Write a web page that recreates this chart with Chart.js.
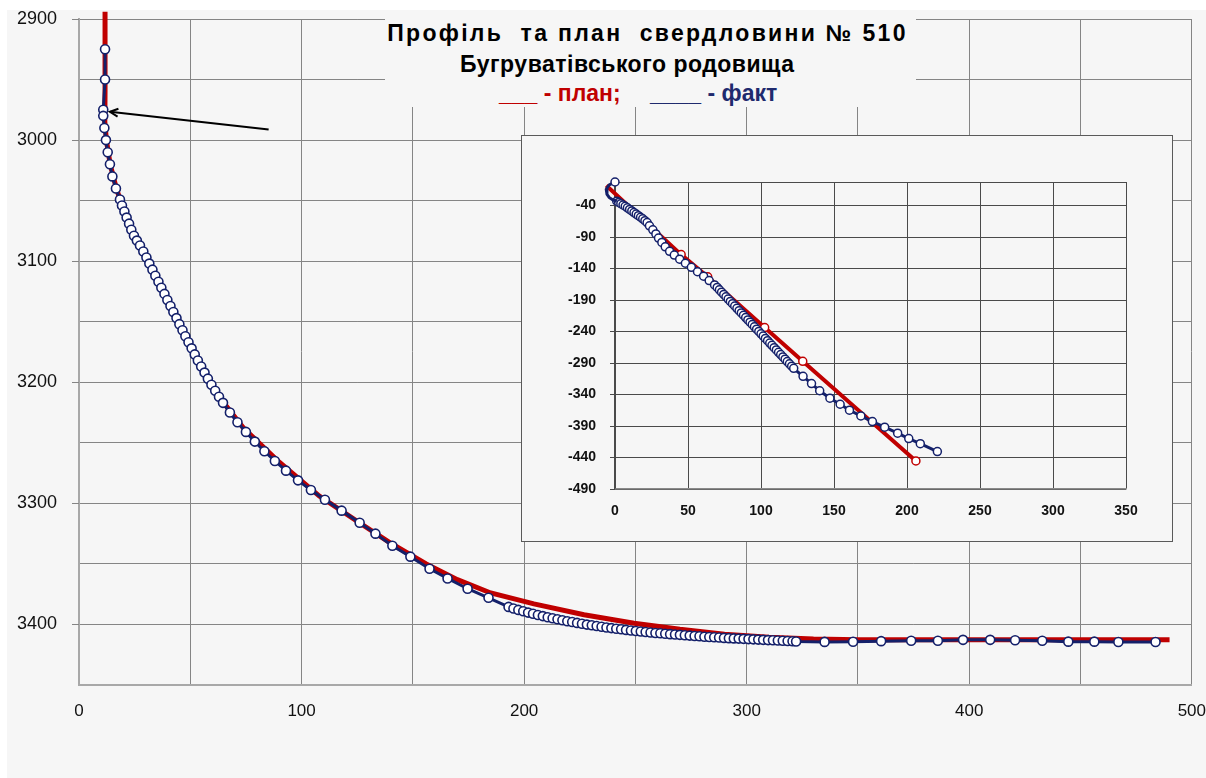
<!DOCTYPE html>
<html>
<head>
<meta charset="utf-8">
<script src="https://cdn.jsdelivr.net/npm/chart.js@4.4.1/dist/chart.umd.min.js"></script>
<style>
  html, body { margin: 0; padding: 0; background: #fff; }
  body { width: 1206px; height: 778px; position: relative; overflow: hidden; font-family: "Liberation Sans", Arial, sans-serif; }
  #bg { position: absolute; left: 7px; top: 10px; right: 0; bottom: 0; background: #f6f6f6; }
  #main { position: absolute; left: 0; top: 0; }
  #title { position: absolute; left: 385px; top: 10px; width: 531px; height: 97px; background: #f6f6f6; }
  #title div { position: absolute; white-space: pre; font-weight: bold; font-size: 23px; line-height: 23px; }
  #line1 { left: 0; width: 525px; text-align: center; top: 12px; letter-spacing: 2.3px; color: #000; }
  #line2 { left: 75px; top: 43px; color: #000; letter-spacing: 0.5px; }
  #plan { left: 114px; top: 72px; color: #c00000; }
  #fact { left: 265px; top: 72px; color: #1f2a6e; }
  #insetBox { position: absolute; left: 521px; top: 135px; width: 650px; height: 405px; border: 1px solid #5a5a5a; background: #f6f6f6; }
  #inset { position: absolute; left: 0; top: 0; }
</style>
</head>
<body>
<div id="bg"></div>
<canvas id="main" width="1206" height="778"></canvas>
<div id="title">
  <div id="line1">Профіль  та план  свердловини № 510</div>
  <div id="line2">Бугруватівського родовища</div>
  <div id="plan">___ - план;</div>
  <div id="fact">____ - факт</div>
</div>
<div id="insetBox"><canvas id="inset" width="650" height="405"></canvas></div>

<script>
// --- Main chart: profile (horizontal offset vs depth) ---
const factMainX = [11.7, 11.7, 10.9, 10.9, 11.4, 12.1, 12.9, 13.9, 15.0, 16.6,
  18.4, 19.3, 20.4, 21.4, 22.5, 23.5, 24.7, 26.0, 27.4, 28.9,
  30.3, 31.6, 33.0, 34.3, 35.7, 37.0, 38.4, 39.7, 41.1, 42.4,
  43.8, 45.1, 46.5, 47.8, 49.2, 50.6, 52.0, 53.4, 54.9, 56.4,
  57.9, 59.5, 61.2, 62.9, 64.7, 67.8, 71.2, 75.0, 79.0, 83.3,
  88.0, 93.0, 98.4, 104.2, 110.5, 118.0, 126.1, 133.2, 140.8, 148.9,
  157.5, 165.6, 174.6, 184.0,
  193.0, 195.2, 197.4, 199.6, 201.8, 204.0, 206.2, 208.4, 210.6, 212.8,
  215.0, 217.2, 219.4, 221.6, 223.8, 226.0, 228.2, 230.4, 232.6, 234.8,
  237.0, 239.2, 241.4, 243.6, 245.8, 248.0, 250.2, 252.4, 254.6, 256.8,
  259.0, 261.2, 263.4, 265.6, 267.8, 270.0, 272.2, 274.4, 276.6, 278.8,
  281.0, 283.2, 285.4, 287.6, 289.8, 292.0, 294.2, 296.4, 298.6, 300.8,
  303.0, 305.2, 307.4, 309.6, 311.8, 314.0, 316.2, 318.4, 320.6, 322.2,
  335.0, 347.8, 360.4, 373.9, 385.9, 397.2, 409.4, 420.6, 432.8, 444.5,
  456.2, 467.0, 483.7];
const factMainY = [2925, 2950, 2975, 2980, 2990, 3000, 3010, 3020, 3030, 3040,
  3049, 3054, 3059, 3064, 3069, 3074, 3079, 3083, 3087, 3092,
  3097, 3102, 3107, 3112, 3117, 3122, 3127, 3132, 3137, 3142,
  3147, 3152, 3157, 3162, 3167, 3172, 3177, 3182, 3187, 3192,
  3197, 3202, 3207, 3212, 3217, 3225, 3233, 3241, 3249, 3257,
  3265, 3273, 3281, 3289, 3297, 3306, 3316, 3325, 3335, 3344,
  3354, 3362, 3370.5, 3378,
  3385.5, 3386.8, 3388.0, 3389.1, 3390.2, 3391.2, 3392.2, 3393.1, 3394.0, 3394.9,
  3395.7, 3396.5, 3397.3, 3398.0, 3398.7, 3399.4, 3400.1, 3400.7, 3401.3, 3401.9,
  3402.5, 3403.0, 3403.5, 3404.0, 3404.5, 3405.0, 3405.4, 3405.8, 3406.2, 3406.6,
  3407.0, 3407.3, 3407.7, 3408.0, 3408.3, 3408.6, 3408.9, 3409.2, 3409.5, 3409.8,
  3410.1, 3410.3, 3410.6, 3410.8, 3411.1, 3411.3, 3411.5, 3411.7, 3411.9, 3412.1,
  3412.3, 3412.5, 3412.7, 3412.9, 3413.1, 3413.3, 3413.5, 3413.7, 3413.9, 3414.1,
  3414.4, 3414.3, 3413.8, 3413.4, 3413.4, 3412.7, 3412.7, 3413.1, 3413.4, 3414.2,
  3414.2, 3414.5, 3414.5];

const planMainX = [11.7, 11.7, 11.6, 12.3, 14.0, 16.8, 20.5, 25.5, 31.0, 42.0,
  53.0, 62.0, 74.0, 90.0, 108.0, 126.0, 141.0, 156.0, 170.0, 185.0,
  204.4, 226.9, 249.4, 270.0, 290.0, 310.0, 330.0, 350.0, 490.0];
const planMainY = [2894, 2960, 2985, 3000, 3020, 3040, 3060, 3080, 3100, 3140,
  3180, 3210, 3238, 3266, 3294, 3316, 3334, 3350, 3363, 3374,
  3383, 3392, 3399, 3404, 3408, 3410.5, 3412, 3412.6, 3412.6];

// arrow pointing at the top of the measured well (data units)
const arrowFrom = [85.2, 2991.2];
const arrowTo = [13.9, 2976.6];

// --- Inset chart: plan view ---
const factInsetHeadX = [0, -4, -6, -5.5, -4, -1.5, 1.2];
const factInsetHeadY = [-2.5, -7, -14, -22, -27, -31, -33];

const factInsetX = [1.2, 2.5, 4.0, 5.5, 7.0, 8.5, 10.0, 11.5, 13.0, 14.5,
  16.0, 17.5, 19.0, 20.5, 22.0, 23.6, 25.9, 28.0, 29.8, 32.1,
  34.4, 37.4, 40.6, 44.3, 48.2, 52.3, 56.5, 60.7, 64.5, 68.2,
  70.0, 71.5, 73.0, 74.5, 76.0, 77.5, 79.0, 80.5, 82.0, 83.5,
  85.0, 86.5, 88.0, 89.5, 91.0, 92.5, 94.0, 95.5, 97.0, 98.5,
  100.0, 101.5, 103.0, 104.5, 106.0, 107.5, 109.0, 110.5, 112.0, 113.5,
  115.0, 116.5, 118.0, 119.5, 121.0, 122.4,
  128.8, 134.6, 140.2, 147.2, 154.2, 160.6, 168.4, 176.3, 184.7, 193.6,
  201.2, 209.1, 220.8];
const factInsetY = [-33, -35, -37, -39, -41, -43.5, -46, -48.5, -51, -53.5,
  -56, -58.5, -61, -64, -67, -72, -78.5, -85, -91.5, -98.5,
  -105.5, -112.5, -118.5, -125, -131.5, -138, -145, -152, -159, -166,
  -170, -173.7, -177.4, -181.0, -184.7, -188.4, -192.1, -195.7, -199.4, -203.1,
  -206.8, -210.4, -214.1, -217.8, -221.5, -225.1, -228.8, -232.5, -236.2, -239.8,
  -243.5, -247.2, -250.9, -254.5, -258.2, -261.9, -265.6, -269.2, -272.9, -276.6,
  -280.3, -283.9, -287.6, -291.3, -295.0, -298.4,
  -311, -322.5, -334, -345.8, -355.4, -364.9, -374, -383, -391.9, -401.4,
  -410, -418, -430.6];

const planInsetX = [-6, 45.3, 63.5, 102.5, 128.6, 206.1];
const planInsetY = [-8, -117.8, -153.1, -233.7, -287.2, -445.5];

const insetYTicks = [-490, -440, -390, -340, -290, -240, -190, -140, -90, -40];
const insetYTop = -2.5;

const NAVY = "#14206a";
const RED = "#c00000";
const GRID = "#858585";

Chart.defaults.font.family = '"Liberation Sans", Arial, sans-serif';

const pts = (xs, ys) => xs.map((x, i) => ({ x, y: ys[i] }));

// --- Arrow + short y tick marks ---
const extrasPlugin = {
  id: "extras",
  afterDatasetsDraw(chart) {
    const { ctx, scales: { x, y } } = chart;
    const x1 = x.getPixelForValue(arrowFrom[0]), y1 = y.getPixelForValue(arrowFrom[1]);
    const x2 = x.getPixelForValue(arrowTo[0]), y2 = y.getPixelForValue(arrowTo[1]);
    const ang = Math.atan2(y2 - y1, x2 - x1);
    ctx.save();
    ctx.strokeStyle = "#000";
    ctx.lineWidth = 2;
    ctx.beginPath();
    ctx.moveTo(x1, y1);
    ctx.lineTo(x2, y2);
    ctx.stroke();
    ctx.beginPath();
    ctx.moveTo(x2 - 9 * Math.cos(ang - 0.45), y2 - 9 * Math.sin(ang - 0.45));
    ctx.lineTo(x2, y2);
    ctx.lineTo(x2 - 9 * Math.cos(ang + 0.45), y2 - 9 * Math.sin(ang + 0.45));
    ctx.stroke();

    // 7px tick marks at labelled depths
    ctx.strokeStyle = GRID;
    ctx.lineWidth = 1;
    y.ticks.forEach((t) => {
      if (t.value % 100 !== 0) return;
      const py = Math.round(y.getPixelForValue(t.value)) + 0.5;
      ctx.beginPath();
      ctx.moveTo(x.left - 7, py);
      ctx.lineTo(x.left, py);
      ctx.stroke();
    });
    ctx.restore();
  }
};

// --- Main chart ---
new Chart(document.getElementById("main"), {
  type: "scatter",
  data: {
    datasets: [
      {
        data: pts(factMainX, factMainY),
        showLine: true,
        borderColor: NAVY,
        borderWidth: 3,
        pointRadius: 4.5,
        pointBackgroundColor: "#fff",
        pointBorderColor: NAVY,
        pointBorderWidth: 1.6
      },
      {
        data: pts(planMainX, planMainY),
        showLine: true,
        borderColor: RED,
        borderWidth: 5,
        pointRadius: 0,
        clip: 10
      }
    ]
  },
  options: {
    responsive: false,
    animation: false,
    plugins: { legend: { display: false }, tooltip: { enabled: false } },
    layout: { padding: { left: 7, top: 19, right: 14, bottom: 0 } },
    scales: {
      x: {
        type: "linear",
        min: 0,
        max: 500,
        ticks: {
          stepSize: 50,
          autoSkip: false,
          maxRotation: 0,
          padding: 0,
          color: "#111",
          font: { size: 17 },
          callback: (v) => (v % 100 === 0 ? v : "")
        },
        grid: { color: GRID, drawTicks: true, tickLength: 16, tickColor: "rgba(0,0,0,0)" },
        border: { color: "#a8a8a8", width: 2 },
        afterFit: (s) => { s.height = 93; }
      },
      y: {
        type: "linear",
        reverse: true,
        min: 2900,
        max: 3450,
        ticks: {
          stepSize: 50,
          autoSkip: false,
          padding: 0,
          color: "#111",
          font: { size: 18 },
          callback: (v) => (v % 100 === 0 ? v : "")
        },
        grid: { color: GRID, tickLength: 22, tickColor: "rgba(0,0,0,0)" },
        border: { color: "#a8a8a8", width: 2 },
        afterFit: (s) => { s.width = 72; }
      }
    }
  },
  plugins: [extrasPlugin]
});

// --- Inset chart ---
new Chart(document.getElementById("inset"), {
  type: "scatter",
  data: {
    datasets: [
      {
        data: pts(factInsetHeadX, factInsetHeadY),
        showLine: true,
        borderColor: NAVY,
        borderWidth: 3,
        pointRadius: (c) => (c.dataIndex === 0 ? 4 : 0),
        pointBackgroundColor: "#fff",
        pointBorderColor: NAVY,
        pointBorderWidth: 1.5,
        clip: 12
      },
      {
        data: pts(factInsetX, factInsetY),
        showLine: true,
        borderColor: NAVY,
        borderWidth: 3,
        pointRadius: 4,
        pointBackgroundColor: "#fff",
        pointBorderColor: NAVY,
        pointBorderWidth: 1.5,
        clip: 12
      },
      {
        data: pts(planInsetX, planInsetY),
        showLine: true,
        borderColor: RED,
        borderWidth: 4,
        pointRadius: 4,
        pointBackgroundColor: "#fff",
        pointBorderColor: RED,
        pointBorderWidth: 1.5,
        clip: 12
      }
    ]
  },
  options: {
    responsive: false,
    animation: false,
    plugins: { legend: { display: false }, tooltip: { enabled: false } },
    layout: { padding: { left: 0, top: 46, right: 46, bottom: 0 } },
    scales: {
      x: {
        type: "linear",
        min: 0,
        max: 350,
        ticks: { stepSize: 50, autoSkip: false, maxRotation: 0, padding: 14, color: "#111", font: { size: 14, weight: "bold" } },
        grid: { color: "#4a4a4a", drawTicks: false },
        border: { color: "#8a8a8a", width: 1.5 },
        afterFit: (s) => { s.height = 52; }
      },
      y: {
        type: "linear",
        min: -490,
        max: insetYTop,
        afterBuildTicks: (s) => { s.ticks = insetYTicks.concat([insetYTop]).map((v) => ({ value: v })); },
        ticks: {
          autoSkip: false,
          padding: 14,
          color: "#111",
          font: { size: 14, weight: "bold" },
          callback: (v) => (v === insetYTop ? "" : v)
        },
        grid: {
          color: "#4a4a4a",
          tickLength: 5,
          tickColor: (c) => (c.tick && c.tick.value !== insetYTop ? "#4a4a4a" : "rgba(0,0,0,0)")
        },
        border: { color: "#4a4a4a", width: 1.5 },
        afterFit: (s) => { s.width = 93; }
      }
    }
  }
});
</script>
</body>
</html>
